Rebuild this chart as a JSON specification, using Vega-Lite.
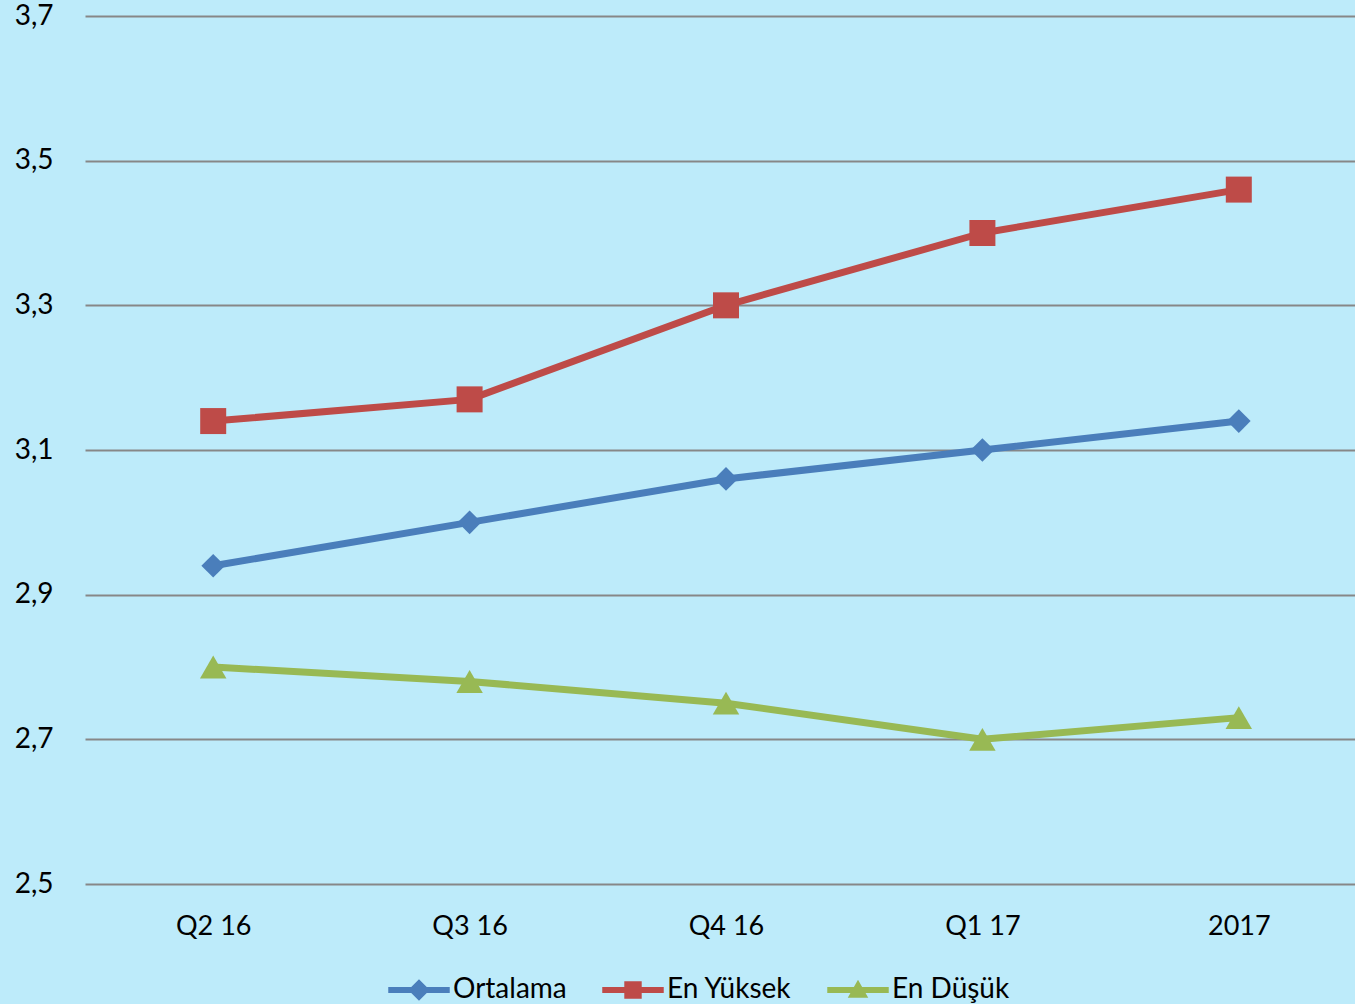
{
  "$schema": "https://vega.github.io/schema/vega-lite/v6.json",
  "width": 1282,
  "height": 868,
  "autosize": "none",
  "padding": {"left": 85, "top": 16, "right": -12, "bottom": 120},
  "background": "#bdebfa",
  "config": {
    "view": {"stroke": null},
    "font": "Lato",
    "axis": {"labelFont": "Lato", "labelColor": "#000000", "labelFontSize": 27}
  },
  "data": {
    "values": [
      {"q": "Q2 16", "series": "Ortalama", "value": 2.94},
      {"q": "Q3 16", "series": "Ortalama", "value": 3.0},
      {"q": "Q4 16", "series": "Ortalama", "value": 3.06},
      {"q": "Q1 17", "series": "Ortalama", "value": 3.1},
      {"q": "2017", "series": "Ortalama", "value": 3.14},
      {"q": "Q2 16", "series": "En Yüksek", "value": 3.14},
      {"q": "Q3 16", "series": "En Yüksek", "value": 3.17},
      {"q": "Q4 16", "series": "En Yüksek", "value": 3.3},
      {"q": "Q1 17", "series": "En Yüksek", "value": 3.4},
      {"q": "2017", "series": "En Yüksek", "value": 3.46},
      {"q": "Q2 16", "series": "En Düşük", "value": 2.8},
      {"q": "Q3 16", "series": "En Düşük", "value": 2.78},
      {"q": "Q4 16", "series": "En Düşük", "value": 2.75},
      {"q": "Q1 17", "series": "En Düşük", "value": 2.7},
      {"q": "2017", "series": "En Düşük", "value": 2.73}
    ]
  },
  "encoding": {
    "x": {
      "field": "q",
      "type": "ordinal",
      "sort": ["Q2 16", "Q3 16", "Q4 16", "Q1 17", "2017"],
      "scale": {"type": "point", "padding": 0.5},
      "axis": {"title": null, "labelAngle": 0, "domain": false, "ticks": false, "grid": false, "labelPadding": 29}
    },
    "y": {
      "field": "value",
      "type": "quantitative",
      "scale": {"domain": [2.5, 3.7], "nice": false, "zero": false},
      "axis": {
        "title": null,
        "values": [2.5, 2.7, 2.9, 3.1, 3.3, 3.5, 3.7],
        "labelExpr": "replace(format(datum.value, '.1f'), '.', ',')",
        "labelFontSize": 28,
        "domain": false,
        "ticks": false,
        "grid": true,
        "gridColor": "#878787",
        "gridWidth": 2,
        "gridOpacity": 1,
        "labelPadding": 32
      }
    }
  },
  "layer": [
    {
      "mark": {"type": "line", "strokeWidth": 7, "strokeJoin": "round", "strokeCap": "round"},
      "encoding": {
        "color": {
          "field": "series",
          "type": "nominal",
          "scale": {"domain": ["Ortalama", "En Yüksek", "En Düşük"], "range": ["#4a7ebb", "#be4b48", "#98b954"]},
          "legend": {
            "title": null,
            "orient": "none",
            "direction": "horizontal",
            "legendX": 320,
            "legendY": 960,
            "labelFont": "Lato",
            "labelFontSize": 28,
            "labelColor": "#000000",
            "labelOffset": 20,
            "columnPadding": 35,
            "symbolSize": 420,
            "symbolStrokeWidth": 0,
            "symbolOpacity": 1,
            "symbolType": {"expr": "datum.value === 'Ortalama' ? 'M-3,-0.3L3,-0.3L3,0.3L-3,0.3ZM0,-1.05L1.05,0L0,1.05L-1.05,0Z' : datum.value === 'En Yüksek' ? 'M-3,-0.3L3,-0.3L3,0.3L-3,0.3ZM-0.85,-0.85L0.85,-0.85L0.85,0.85L-0.85,0.85Z' : 'M-3,-0.3L3,-0.3L3,0.3L-3,0.3ZM0,-1L1,0.75L-1,0.75Z'"},
            "symbolFillColor": {"expr": "scale('color', datum.value)"},
            "symbolStrokeColor": {"expr": "scale('color', datum.value)"}
          }
        }
      }
    },
    {
      "transform": [{"filter": "datum.series === 'Ortalama'"}],
      "mark": {"type": "point", "filled": true, "opacity": 1, "shape": "diamond", "size": 560},
      "encoding": {"color": {"field": "series", "type": "nominal", "legend": null}}
    },
    {
      "transform": [{"filter": "datum.series === 'En Yüksek'"}],
      "mark": {"type": "point", "filled": true, "opacity": 1, "shape": "square", "size": 676},
      "encoding": {"color": {"field": "series", "type": "nominal", "legend": null}}
    },
    {
      "transform": [{"filter": "datum.series === 'En Düşük'"}],
      "mark": {"type": "point", "filled": true, "opacity": 1, "shape": "triangle-up", "size": 700},
      "encoding": {"color": {"field": "series", "type": "nominal", "legend": null}}
    }
  ]
}
